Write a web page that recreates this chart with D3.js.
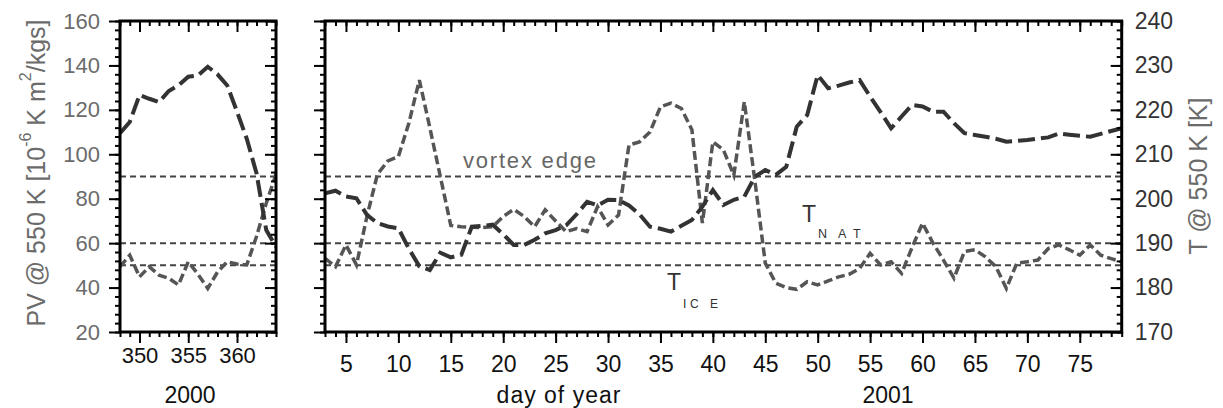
<!DOCTYPE html>
<meta charset="utf-8">
<style>
    body { margin: 0; background: #fff; }
    text { font-family: "Liberation Sans", Arial, sans-serif; }
    .frame { fill: none; stroke: #000; stroke-width: 3; }
    .tick line { stroke: #000; stroke-width: 2; }
    .ref { stroke: #444; stroke-width: 2; stroke-dasharray: 6,4; fill: none; }
    .pv { stroke: #333; stroke-width: 4; stroke-dasharray: 17,6; fill: none; }
    .temp { stroke: #555; stroke-width: 3.5; stroke-dasharray: 9,4; fill: none; }
</style>
<svg width="1223" height="408"></svg>
<script src="https://d3js.org/d3.v7.min.js"></script>
<script>
    // days of year 2000 (left panel) and 2001 (main panel)
    var days2000 = d3.range(348, 365);
    var days2001 = d3.range(3, 80);

    // PV @ 550 K [10^-6 K m2/kgs]
    var pv2000 = [109.5, 114.5, 126.7, 125, 123.5, 128.5, 131, 134.9, 135.5, 139.4, 136, 131, 119.2, 107, 91.5, 65.9, 58.4];
    var pv2001 = [82.4, 83.6, 81, 80.2, 72.7, 69, 67.5, 66.7, 57.5, 49.6,
        47.9, 55.7, 53.6, 54.7, 67.4, 67.8, 68.3, 64, 59.2, 59.2,
        61.5, 64.4, 65.9, 68, 73, 78.6, 77, 79.5, 79.4, 77,
        73, 67.4, 66.5, 65.2, 67.8, 70.4, 76.4, 83.9, 77.2, 79.5,
        80.9, 89.9, 92.9, 90.7, 94.4, 112.4, 117.7, 135.7, 129.7, 130.9,
        132.3, 133.4, 126, 119, 111.7, 117, 122.2, 121.5, 119.2, 119.2,
        114, 109.5, 108.7, 107.9, 107, 105.7, 106, 106.4, 107, 107.6,
        109.4, 108.8, 108.3, 107.9, 109.2, 110.5, 111.7];

    // T @ 550 K [K]
    var t2000 = [184.7, 187.3, 182.4, 184.7, 182.8, 182.1, 180.6, 185.8, 183, 179.8, 183.5, 185.8, 185.3, 185.1, 191.5, 199, 205.5];
    var t2001 = [186.6, 184.7, 189.6, 185.1, 196, 205.5, 208.5, 209.5, 217, 226.7,
        216, 205, 194, 193.7, 193.6, 193.5, 193.7, 196, 197.6, 196,
        193.7, 197.5, 195, 192.6, 193.3, 192.6, 198.2, 194.1, 196.3, 212.1,
        212.8, 215, 220.7, 221.5, 220.3, 215.5, 194.5, 212.8, 211, 205.3,
        221.8, 204.2, 185.5, 181, 180, 179.6, 181.3, 180.6, 181.5, 182.4,
        183, 184.3, 187.7, 185.1, 185.8, 183.2, 189, 194.5, 190, 186.2,
        182.1, 188.1, 188.5, 186.9, 184.7, 179.8, 185.5, 185.8, 186.2, 188.8,
        189.6, 188.5, 187.3, 189.6, 187.3, 186.5, 185.8];

    var pvEdge = 90, tNAT = 190, tICE = 185;
    var pvTicks = [20, 40, 60, 80, 100, 120, 140, 160];
    var tTicks = [170, 180, 190, 200, 210, 220, 230, 240];

    var svg = d3.select("svg");
    var yTop = 21, yBot = 332;

    var yPV = d3.scaleLinear().domain([20, 160]).range([yBot, yTop]);
    var yT = d3.scaleLinear().domain([170, 240]).range([yBot, yTop]);
    var xL = d3.scaleLinear().domain([348, 364]).range([120, 276]);
    var xM = d3.scaleLinear().domain([3, 79]).range([325, 1121.7]);

    var defs = svg.append("defs");
    [["clipL", xL], ["clipM", xM]].forEach(function (c) {
        defs.append("clipPath").attr("id", c[0]).append("rect")
            .attr("x", c[1].range()[0]).attr("y", yTop)
            .attr("width", c[1].range()[1] - c[1].range()[0]).attr("height", yBot - yTop);
    });

    function panel(x, clip, days, pv, t, majorX) {
        var g = svg.append("g");
        var x0 = x.range()[0], x1 = x.range()[1];
        var minorX = d3.range(x.domain()[0], x.domain()[1] + 1);

        // reference lines
        [yPV(pvEdge), yT(tNAT), yT(tICE)].forEach(function (yy) {
            g.append("line").attr("class", "ref")
                .attr("x1", x0).attr("x2", x1 + 3).attr("y1", yy).attr("y2", yy);
        });

        var lines = g.append("g").attr("clip-path", "url(#" + clip + ")");
        lines.append("path").attr("class", "temp")
            .attr("d", d3.line().x(function (d, i) { return x(days[i]); }).y(function (d) { return yT(d); })(t));
        lines.append("path").attr("class", "pv")
            .attr("d", d3.line().x(function (d, i) { return x(days[i]); }).y(function (d) { return yPV(d); })(pv));

        // vertical axes: ticks pointing left on both edges
        var minorY = d3.range(20, 161, 4);
        [x0, x1].forEach(function (xx) {
            g.append("g").attr("transform", "translate(" + xx + ",0)")
                .call(d3.axisLeft(yPV).tickValues(minorY).tickSize(5).tickFormat(""));
            g.append("g").attr("transform", "translate(" + xx + ",0)")
                .call(d3.axisLeft(yPV).tickValues(pvTicks).tickSize(11).tickFormat(""));
        });
        // horizontal axes: ticks pointing down on both edges
        [yTop, yBot].forEach(function (yy) {
            g.append("g").attr("transform", "translate(0," + yy + ")")
                .call(d3.axisBottom(x).tickValues(minorX).tickSize(5).tickFormat(""));
            g.append("g").attr("transform", "translate(0," + yy + ")")
                .call(d3.axisBottom(x).tickValues(majorX).tickSize(11).tickFormat(""));
        });
        g.selectAll(".domain").remove();

        g.append("rect").attr("class", "frame")
            .attr("x", x0).attr("y", yTop).attr("width", x1 - x0).attr("height", yBot - yTop);
        return g;
    }

    panel(xL, "clipL", days2000, pv2000, t2000, [350, 355, 360]);
    panel(xM, "clipM", days2001, pv2001, t2001, d3.range(5, 80, 5));

    function labels(a, color, size) {
        a.select(".domain").remove();
        a.selectAll("line").remove();
        a.selectAll("text").attr("fill", color).style("font-size", size)
            .style("font-family", "Liberation Sans, Arial, sans-serif");
    }

    // tick labels
    svg.append("g").attr("transform", "translate(120,0)")
        .call(d3.axisLeft(yPV).tickValues(pvTicks).tickSize(10).tickPadding(10))
        .call(labels, "#6b6b6b", "22px");

    svg.append("g").attr("transform", "translate(1121.7,0)")
        .call(d3.axisRight(yT).tickValues(tTicks).tickSize(0).tickPadding(13))
        .call(labels, "#333", "23px");

    svg.append("g").attr("transform", "translate(0," + yBot + ")")
        .call(d3.axisBottom(xL).tickValues([350, 355, 360]).tickSize(10).tickPadding(5))
        .call(labels, "#111", "22px");

    svg.append("g").attr("transform", "translate(0," + yBot + ")")
        .call(d3.axisBottom(xM).tickValues(d3.range(5, 80, 5)).tickSize(10).tickPadding(14))
        .call(labels, "#111", "23px");

    // axis titles
    svg.append("text").attr("x", 190).attr("y", 403).attr("text-anchor", "middle")
        .attr("fill", "#111").style("font-size", "23px").text("2000");
    svg.append("text").attr("x", 559).attr("y", 403).attr("text-anchor", "middle")
        .attr("fill", "#111").style("font-size", "23px").style("letter-spacing", "1px").text("day of year");
    svg.append("text").attr("x", 888).attr("y", 403).attr("text-anchor", "middle")
        .attr("fill", "#111").style("font-size", "23px").text("2001");

    var yl = svg.append("text").attr("transform", "translate(45,173) rotate(-90)")
        .attr("text-anchor", "middle").attr("fill", "#6b6b6b").style("font-size", "25px");
    yl.append("tspan").text("PV @ 550 K [10");
    yl.append("tspan").attr("dy", -14).style("font-size", "16px").text("-6");
    yl.append("tspan").attr("dy", 14).text(" K m");
    yl.append("tspan").attr("dy", -14).style("font-size", "16px").text("2");
    yl.append("tspan").attr("dy", 14).text("/kgs]");

    svg.append("text").attr("transform", "translate(1207,176) rotate(-90)")
        .attr("text-anchor", "middle").attr("fill", "#6b6b6b").style("font-size", "25px")
        .text("T @ 550 K [K]");

    // annotations
    svg.append("text").attr("x", 463).attr("y", 168).attr("fill", "#666")
        .style("font-size", "22px").style("letter-spacing", "1.8px").text("vortex edge");

    svg.append("text").attr("x", 802).attr("y", 222).attr("fill", "#333")
        .style("font-size", "23px").text("T");
    svg.append("text").attr("x", "818 838 853").attr("y", 238).attr("fill", "#333")
        .style("font-size", "12.5px").text("NAT");
    svg.append("text").attr("x", 667).attr("y", 290).attr("fill", "#333")
        .style("font-size", "23px").text("T");
    svg.append("text").attr("x", "683 690 710").attr("y", 308).attr("fill", "#333")
        .style("font-size", "12px").text("ICE");
</script>
